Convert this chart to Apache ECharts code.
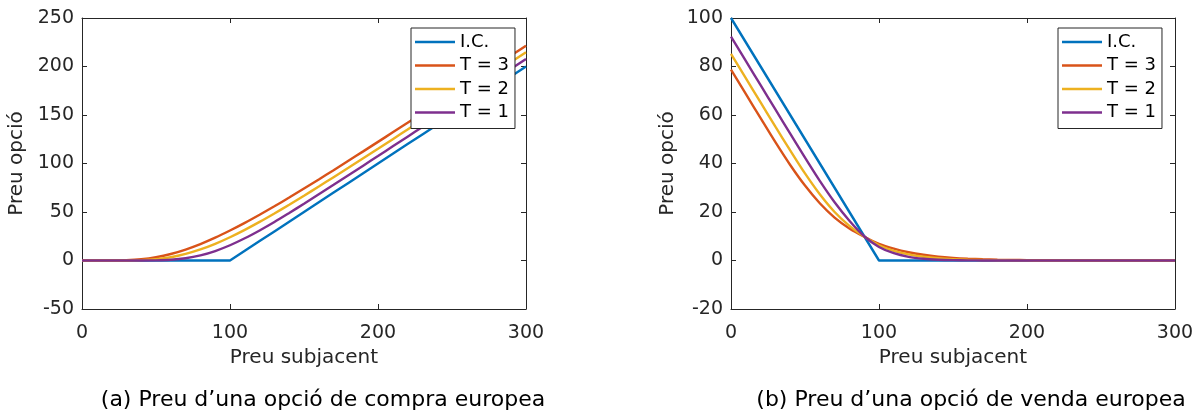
<!DOCTYPE html>
<html><head><meta charset="utf-8">
<script src="https://cdn.jsdelivr.net/npm/echarts@6/dist/echarts.min.js"></script>
<style>html,body{margin:0;padding:0;background:#fff}#c{width:1198px;height:414px}</style>
</head><body><div id="c"></div>
<script>
// Underlying price (x values)
const S = [0,10,20,30,40,50,60,70,80,90,100,110,120,130,140,150,160,170,180,190,200,210,220,230,240,250,260,270,280,290,300];
const seriesNames = ['I.C.', 'T = 3', 'T = 2', 'T = 1'];

// (a) European call
const callIC = [0,0,0,0,0,0,0,0,0,0,0,10,20,30,40,50,60,70,80,90,100,110,120,130,140,150,160,170,180,190,200];
const callT3 = [0,0,0.03,0.3,1.3,3.4,6.7,11.3,16.9,23.5,30.9,38.8,47.2,55.9,64.9,74.2,83.6,93.1,102.8,112.5,122.3,132.1,141.9,151.8,161.7,171.7,181.6,191.6,201.5,211.5,221.5];
const callT2 = [0,0,0,0.05,0.36,1.4,3.4,6.8,11.4,17.2,24.0,31.6,39.8,48.5,57.5,66.8,76.3,85.9,95.6,105.4,115.2,125.1,135.0,145.0,154.9,164.9,174.9,184.8,194.8,204.8,214.8];
const callT1 = [0,0,0,0,0.01,0.15,0.75,2.3,5.25,9.75,15.7,22.9,31.0,39.7,49.0,58.5,68.2,78.0,87.9,97.8,107.7,117.7,127.7,137.7,147.7,157.7,167.7,177.7,187.7,197.7,207.7];

// (b) European put
const putIC = [100,90,80,70,60,50,40,30,20,10,0,0,0,0,0,0,0,0,0,0,0,0,0,0,0,0,0,0,0,0,0];
const putT3 = [78.7,68.7,58.7,48.8,39.4,30.9,23.6,17.7,13.2,9.8,6.9,4.9,3.4,2.35,1.6,1.1,0.75,0.5,0.33,0.22,0.14,0.09,0.06,0.04,0.02,0.01,0,0,0,0,0];
const putT2 = [85.2,75.2,65.2,55.2,45.4,35.9,27.3,20.0,14.3,9.9,6.3,4.0,2.5,1.55,0.95,0.58,0.35,0.21,0.12,0.07,0.04,0.02,0.01,0,0,0,0,0,0,0,0];
const putT1 = [92.3,82.3,72.3,62.3,52.3,42.4,32.8,24.0,16.4,10.0,5.6,3.0,1.5,0.72,0.33,0.15,0.07,0.03,0.01,0,0,0,0,0,0,0,0,0,0,0,0];

const xTitle = 'Preu subjacent';
const yTitle = 'Preu opció';
const captionA = '(a) Preu d’una opció de compra europea';
const captionB = '(b) Preu d’una opció de venda europea';

const colors = ['#0072BD', '#D95319', '#EDB120', '#7E2F8E'];
const AX = '#262626';
const FONT = 'DejaVu Sans';

function pairs(ys) { return S.map((x, i) => [x, ys[i]]); }

function mkSeries(sets, xi, yi) {
  return sets.map((d, k) => ({
    name: seriesNames[k], type: 'line', xAxisIndex: xi, yAxisIndex: yi,
    data: pairs(d), symbol: 'none', smooth: k === 0 ? false : 0.3,
    lineStyle: { width: 2.4, color: colors[k] }, itemStyle: { color: colors[k] },
    animation: false
  }));
}

const tick = { show: true, inside: true, length: 5, lineStyle: { color: AX, width: 1 } };
const line = { show: true, onZero: false, lineStyle: { color: AX, width: 1 } };
const lbl = { color: AX, fontFamily: FONT, fontSize: 19 };
const nameStyle = { color: AX, fontFamily: FONT, fontSize: 20 };

function xAxes(g) {
  return [
    { type: 'value', gridIndex: g, min: 0, max: 300, interval: 100, position: 'bottom',
      axisLine: line, axisTick: tick, splitLine: { show: false },
      axisLabel: Object.assign({ margin: 15 }, lbl),
      name: xTitle, nameLocation: 'middle', nameGap: 37, nameTextStyle: nameStyle },
    { type: 'value', gridIndex: g, min: 0, max: 300, interval: 100, position: 'top',
      axisLine: line, axisTick: tick, splitLine: { show: false }, axisLabel: { show: false } }
  ];
}
function yAxes(g, mn, mx, iv, gap) {
  return [
    { type: 'value', gridIndex: g, min: mn, max: mx, interval: iv, position: 'left',
      axisLine: line, axisTick: tick, splitLine: { show: false },
      axisLabel: Object.assign({ margin: 8 }, lbl),
      name: yTitle, nameLocation: 'middle', nameGap: gap, nameRotate: 90, nameTextStyle: nameStyle },
    { type: 'value', gridIndex: g, min: mn, max: mx, interval: iv, position: 'right',
      axisLine: line, axisTick: tick, splitLine: { show: false }, axisLabel: { show: false } }
  ];
}

function legend(left) {
  return {
    data: seriesNames, orient: 'vertical', left: left, top: 28,
    icon: 'rect', itemWidth: 40, itemHeight: 2.4, itemGap: 5.5,
    padding: [5, 6, 7, 4], borderColor: AX, borderWidth: 1, backgroundColor: '#fff',
    borderRadius: 0,
    textStyle: { color: '#000', fontFamily: FONT, fontSize: 18 }
  };
}

const chart = echarts.init(document.getElementById('c'), null, { renderer: 'canvas' });
chart.setOption({
  backgroundColor: '#fff',
  animation: false,
  title: [
    { text: captionA, left: 318, top: 384, textAlign: 'center',
      textStyle: { fontFamily: FONT, fontSize: 22, fontWeight: 'normal', color: '#000' } },
    { text: captionB, left: 966, top: 384, textAlign: 'center',
      textStyle: { fontFamily: FONT, fontSize: 22, fontWeight: 'normal', color: '#000' } }
  ],
  grid: [
    { left: 82, top: 18, width: 444, height: 291 },
    { left: 731, top: 18, width: 444, height: 291 }
  ],
  xAxis: xAxes(0).concat(xAxes(1)),
  yAxis: yAxes(0, -50, 250, 50, 55).concat(yAxes(1, -20, 100, 20, 53)),
  legend: [legend(411), legend(1058)],
  series: mkSeries([callIC, callT3, callT2, callT1], 0, 0)
    .concat(mkSeries([putIC, putT3, putT2, putT1], 2, 2))
});
</script>
</body></html>
